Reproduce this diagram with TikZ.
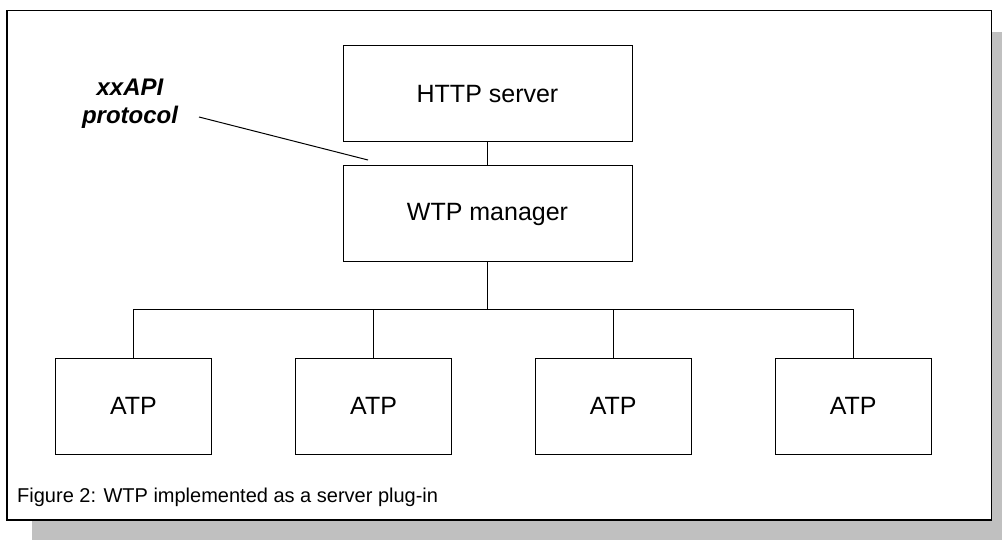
\documentclass[tikz,border=0pt]{standalone}
\usepackage{fontspec}
\setmainfont{Liberation Sans}
\definecolor{shadowgray}{HTML}{C0C0C0}

\begin{document}
\begin{tikzpicture}
[x=1pt,y=-1pt,
 box/.style={draw,line width=1pt,minimum width=289pt,minimum height=96pt,
   font=\fontsize{25}{30}\selectfont},
 atpbox/.style={box,minimum width=156pt},
 wire/.style={line width=1pt}]
\useasboundingbox (0,0) rectangle (1002,540);
% frame with its shadow
\fill[shadowgray] (32,32) rectangle (1002,540);
\draw[fill=white,line width=1.3pt] (7,10.7) rectangle (991.7,520);

\node[box] (httpserver) at (487.5,94) {HTTP server};
\node[box] (manager) at (487.5,214) {WTP manager};

\node[atpbox] (atpa) at (133.4,406) {ATP};
\node[atpbox] (atpb) at (373.6,406) {ATP};
\node[atpbox] (atpc) at (613.2,406) {ATP};
\node[atpbox] (atpd) at (853.2,406) {ATP};

\coordinate (bus) at (487.5,310);
\draw[wire] (httpserver) -- (manager);
\draw[wire] (manager) -- (bus);
\foreach \n in {atpa,atpb,atpc,atpd}
  \draw[wire] (\n.north) |- (bus);

\node[font=\bfseries\itshape\fontsize{24}{28}\selectfont,align=center] (protocol) at (130,104) {xxAPI\\protocol};
\coordinate (protocoltail) at (199,117);
\coordinate (protocoltip) at (368,160);
\draw[wire] (protocoltail) -- (protocoltip);

\node[anchor=west,inner sep=0pt,font=\fontsize{20}{24}\selectfont] (caption) at (17,497) {Figure 2: WTP implemented as a server plug-in};
\end{tikzpicture}
\end{document}
